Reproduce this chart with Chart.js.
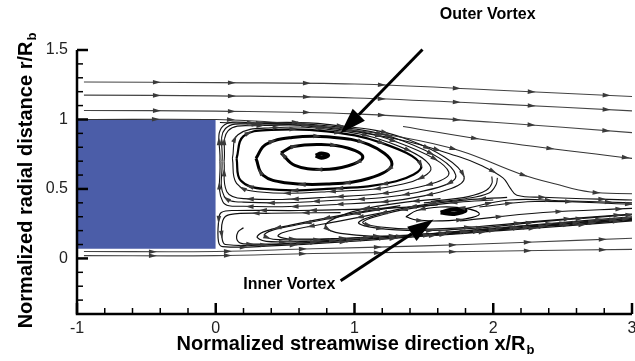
<!DOCTYPE html>
<html>
<head>
<meta charset="utf-8">
<script src="https://cdn.jsdelivr.net/npm/chart.js@4.4.0/dist/chart.umd.min.js"></script>
<style>
  html, body { margin: 0; padding: 0; background: #fff; }
</style>
</head>
<body>
<canvas id="flowChart" width="635" height="361"></canvas>
<script>
// axis ticks
const xTicks = [-1, 0, 1, 2, 3];
const yTicks = [0, 0.5, 1, 1.5];

// body (x/Rb, r/Rb)
const bodyTop = [[-1, 1.0], [0, 1.0]];
const bodyBase = 0.07;

// free stream lines above the body
const free1 = [[-0.95,1.27],[0,1.265],[1,1.255],[2,1.212],[3,1.165]];
const free2 = [[-0.95,1.175],[0,1.17],[1,1.155],[2,1.112],[3,1.062]];
const free3 = [[-0.95,1.065],[0,1.06],[1,1.04],[2,0.98],[3,0.905]];
const free4 = [[1.35,0.95],[2,0.845],[3,0.72]];

// dividing streamlines over the recirculation zone
const sep1 = [[-0.95,1.0],[0,1.0],[0.35,0.985],[0.85,0.94],[1.35,0.87],[1.76,0.775],[2.19,0.61],[2.45,0.535],[2.7,0.478],[3,0.465]];
const sep2 = [[0.03,0.978],[0.6,0.958],[1.3,0.86],[1.76,0.73],[1.91,0.67],[2.07,0.58],[2.12,0.51],[2.17,0.455],[2.36,0.44],[3,0.42]];

// outer vortex loops
const outerCore = [[0.72,0.74],[0.76,0.755],[0.81,0.742],[0.76,0.725],[0.72,0.74]];
const outer1 = [[0.47,0.76],[0.56,0.805],[0.76,0.82],[0.95,0.795],[1.06,0.73],[0.95,0.665],[0.76,0.64],[0.57,0.67],[0.47,0.76]];
const outer2 = [[0.29,0.72],[0.36,0.82],[0.55,0.87],[0.8,0.875],[1.1,0.82],[1.27,0.68],[1.1,0.575],[0.8,0.535],[0.5,0.545],[0.34,0.6],[0.29,0.72]];
const outer3 = [[0.15,0.72],[0.2,0.88],[0.4,0.925],[0.8,0.915],[1.2,0.83],[1.48,0.67],[1.3,0.555],[0.8,0.5],[0.35,0.5],[0.18,0.56],[0.15,0.72]];
const outer3b = [[0.12,0.72],[0.16,0.89],[0.4,0.94],[0.8,0.93],[1.25,0.835],[1.55,0.655],[1.35,0.535],[0.8,0.48],[0.3,0.48],[0.15,0.54],[0.12,0.72]];
const outer4 = [[0.06,0.7],[0.09,0.92],[0.3,0.955],[0.8,0.945],[1.3,0.84],[1.68,0.62],[1.4,0.5],[0.8,0.44],[0.2,0.43],[0.08,0.48],[0.06,0.7]];
const outer4b = [[0.045,0.7],[0.07,0.935],[0.3,0.965],[0.8,0.955],[1.35,0.845],[1.73,0.6],[1.45,0.475],[0.8,0.415],[0.2,0.405],[0.06,0.45],[0.045,0.7]];
const outer5 = [[0.03,0.7],[0.05,0.95],[0.3,0.975],[0.8,0.965],[1.4,0.85],[1.79,0.585],[1.5,0.45],[0.8,0.385],[0.2,0.375],[0.05,0.41],[0.03,0.7]];

// lines along the base wall
const wall1 = [[1.6,0.385],[1.2,0.36],[0.6,0.345],[0.15,0.345],[0.04,0.33],[0.02,0.26],[0.02,0.12],[0.05,0.085],[0.4,0.09],[1.0,0.125],[1.6,0.17],[2.2,0.22],[3.0,0.28]];
const wall2 = [[0.9,0.33],[0.4,0.325],[0.1,0.315],[0.05,0.27],[0.045,0.15],[0.07,0.1],[0.4,0.1],[1.0,0.135],[1.6,0.18],[2.2,0.23],[3.0,0.29]];
const wall3 = [[0.2,0.22],[0.16,0.19],[0.155,0.13],[0.2,0.105],[0.6,0.11],[1.2,0.15],[1.8,0.2],[2.4,0.25],[3,0.3]];

// inner vortex
const innerCore = [[1.62,0.33],[1.7,0.35],[1.8,0.345],[1.72,0.32],[1.62,0.33]];
const inner1 = [[1.37,0.3],[1.45,0.275],[1.62,0.27],[1.8,0.285],[1.9,0.32],[1.8,0.36],[1.62,0.37],[1.45,0.345],[1.37,0.3]];
const innerC1 = [[2.1,0.44],[1.8,0.42],[1.46,0.38],[1.22,0.33],[1.03,0.26],[1.15,0.22],[1.46,0.2],[1.9,0.22],[2.35,0.265],[3.0,0.315]];
const innerC1b = [[2.0,0.42],[1.75,0.405],[1.47,0.37],[1.24,0.325],[1.06,0.262],[1.17,0.228],[1.47,0.21],[1.9,0.23],[2.35,0.27],[3,0.32]];
const innerC2 = [[1.62,0.43],[1.33,0.4],[1.04,0.35],[0.86,0.29],[0.79,0.23],[0.9,0.18],[1.33,0.16],[1.83,0.19],[2.34,0.235],[3.0,0.29]];
const innerC3 = [[1.33,0.38],[0.9,0.31],[0.54,0.24],[0.34,0.19],[0.3,0.15],[0.4,0.12],[0.83,0.13],[1.47,0.16],[2.05,0.2],[3.0,0.27]];
const innerC3b = [[1.3,0.37],[0.92,0.305],[0.58,0.24],[0.4,0.2],[0.35,0.165],[0.45,0.135],[0.85,0.14],[1.47,0.17],[2.05,0.21],[3.0,0.275]];
const innerC3c = [[1.25,0.34],[0.9,0.27],[0.6,0.215],[0.48,0.185],[0.45,0.16],[0.55,0.14],[0.9,0.145],[1.5,0.175],[2.1,0.215],[3,0.28]];

// wake lines behind the saddle
const wake1 = [[1.76,0.35],[2.12,0.42],[2.5,0.415],[3.0,0.4]];
const wake2 = [[1.76,0.27],[2.36,0.33],[3.0,0.36]];
const wake3 = [[1.9,0.37],[2.3,0.41],[3,0.39]];
const saddle1 = [[1.5,0.4],[1.8,0.43],[1.97,0.47],[2.02,0.53],[2.03,0.58]];
const saddle2 = [[1.55,0.41],[1.82,0.445],[1.95,0.49],[1.99,0.54],[1.99,0.59]];

// jet lines below the body
const jet1 = [[-0.95,0.05],[0,0.05],[0.7,0.07],[1.5,0.09],[2.2,0.115],[3,0.145]];
const jet2 = [[-0.95,0.02],[0,0.02],[0.7,0.035],[1.5,0.045],[2.2,0.055],[3,0.065]];

// labels and pointer arrows
const labels = [
  { text: 'Outer Vortex', x: 1.96, y: 1.755 },
  { text: 'Inner Vortex', x: 0.53, y: -0.187 }
];
const pointers = [
  { from: [1.49, 1.504], to: [0.9, 0.9] },
  { from: [0.9, -0.16], to: [1.57, 0.28] }
];

const thin = { w: 1.1, color: '#111', start: 20, gap: 45 };
const lines = [
  { pts: free1, w: 1.1, color: '#444', start: 73, gap: 75 },
  { pts: free2, w: 1.1, color: '#444', start: 73, gap: 75 },
  { pts: free3, w: 1.1, color: '#444', start: 73, gap: 75 },
  { pts: free4, w: 1.1, color: '#333', start: 73, gap: 76 },
  { pts: sep1, w: 1.1, color: '#333', start: 72, gap: 75 },
  { pts: sep2, w: 1.1, color: '#111', start: 40, gap: 60 },
  { pts: outerCore, w: 4, color: '#000' },
  { pts: outer1, w: 3, color: '#000', start: 15, gap: 40 },
  { pts: outer2, w: 3, color: '#000', start: 25, gap: 45 },
  { pts: outer3, w: 2.2, color: '#000', start: 30, gap: 45 },
  Object.assign({ pts: outer3b }, thin),
  Object.assign({ pts: outer4 }, thin),
  Object.assign({ pts: outer4b }, thin),
  Object.assign({ pts: outer5 }, thin),
  { pts: wall1, w: 1.2, color: '#111', start: 25, gap: 50 },
  { pts: wall2, w: 1.2, color: '#111', start: 35, gap: 50 },
  { pts: wall3, w: 1.2, color: '#111', start: 30, gap: 50 },
  { pts: innerCore, w: 4, color: '#000' },
  { pts: inner1, w: 1.2, color: '#000', start: 15, gap: 40 },
  { pts: innerC1, w: 1.3, color: '#111', start: 25, gap: 50 },
  { pts: innerC1b, w: 1.1, color: '#111', start: 40, gap: 50 },
  { pts: innerC2, w: 1.3, color: '#111', start: 25, gap: 50 },
  { pts: innerC3, w: 1.3, color: '#111', start: 25, gap: 50 },
  { pts: innerC3b, w: 1.1, color: '#111', start: 40, gap: 50 },
  { pts: innerC3c, w: 1.1, color: '#111', start: 30, gap: 50 },
  { pts: wake1, w: 1.1, color: '#111', start: 30, gap: 60 },
  { pts: wake2, w: 1.1, color: '#111', start: 40, gap: 60 },
  { pts: wake3, w: 1.1, color: '#111', start: 30, gap: 60 },
  { pts: saddle1, w: 1.1, color: '#111' },
  { pts: saddle2, w: 1.1, color: '#111' },
  { pts: jet1, w: 1.1, color: '#444', start: 69, gap: 75 },
  { pts: jet2, w: 1.1, color: '#444', start: 69, gap: 75 }
];

const toXY = pts => pts.map(p => ({ x: p[0], y: p[1] }));

let datasets = lines.map(l => ({
  data: toXY(l.pts),
  borderColor: l.color,
  borderWidth: l.w,
  pointRadius: 0,
  tension: 0.4,
  fill: false,
  arrowStart: l.start,
  arrowGap: l.gap
}));
datasets.push({
  data: toXY(bodyTop),
  borderWidth: 0,
  borderColor: 'rgba(0,0,0,0)',
  backgroundColor: '#4b5da8',
  pointRadius: 0,
  tension: 0,
  fill: { value: bodyBase },
  order: 10
});

function drawHead(ctx, x, y, dx, dy, len, half) {
  const nx = -dy, ny = dx;
  ctx.beginPath();
  ctx.moveTo(x + dx * len / 2, y + dy * len / 2);
  ctx.lineTo(x - dx * len / 2 + nx * half, y - dy * len / 2 + ny * half);
  ctx.lineTo(x - dx * len / 2 - nx * half, y - dy * len / 2 - ny * half);
  ctx.closePath();
  ctx.fill();
}

const arrowPlugin = {
  id: 'streamArrows',
  afterDatasetsDraw(chart) {
    const ctx = chart.ctx;
    const area = chart.chartArea;
    ctx.save();
    ctx.beginPath();
    ctx.rect(area.left, area.top, area.right - area.left, area.bottom - area.top);
    ctx.clip();
    ctx.fillStyle = '#3a3a3a';
    chart.data.datasets.forEach((ds, i) => {
      if (!ds.arrowGap) return;
      const pts = chart.getDatasetMeta(i).data;
      const path = [];
      for (let k = 0; k < pts.length - 1; k++) {
        const a = pts[k], b = pts[k + 1];
        const c1x = a.cp2x ?? a.x, c1y = a.cp2y ?? a.y;
        const c2x = b.cp1x ?? b.x, c2y = b.cp1y ?? b.y;
        for (let s = 0; s < 16; s++) {
          const t = s / 16, u = 1 - t;
          path.push([
            u*u*u*a.x + 3*u*u*t*c1x + 3*u*t*t*c2x + t*t*t*b.x,
            u*u*u*a.y + 3*u*u*t*c1y + 3*u*t*t*c2y + t*t*t*b.y
          ]);
        }
      }
      const last = pts[pts.length - 1];
      path.push([last.x, last.y]);
      let run = 0, next = ds.arrowStart;
      for (let k = 0; k < path.length - 1; k++) {
        const dx = path[k+1][0] - path[k][0], dy = path[k+1][1] - path[k][1];
        const L = Math.hypot(dx, dy);
        if (L === 0) continue;
        while (run + L >= next) {
          const t = (next - run) / L;
          drawHead(ctx, path[k][0] + dx * t, path[k][1] + dy * t, dx / L, dy / L, 8, 2.3);
          next += ds.arrowGap;
        }
        run += L;
      }
    });
    ctx.restore();
  }
};

const frameAndText = {
  id: 'frameAndText',
  afterDraw(chart) {
    const ctx = chart.ctx;
    const xs = chart.scales.x, ys = chart.scales.y;
    const { left, right, top, bottom } = chart.chartArea;
    ctx.save();
    ctx.strokeStyle = '#000';
    ctx.lineCap = 'butt';
    // axis lines
    ctx.lineWidth = 2.5;
    ctx.beginPath();
    ctx.moveTo(left, top);
    ctx.lineTo(left, bottom);
    ctx.lineTo(right, bottom);
    ctx.stroke();
    // major ticks
    xTicks.forEach(v => {
      const px = xs.getPixelForValue(v);
      ctx.beginPath(); ctx.moveTo(px, bottom); ctx.lineTo(px, bottom - 11); ctx.stroke();
    });
    yTicks.forEach(v => {
      const py = ys.getPixelForValue(v);
      ctx.beginPath(); ctx.moveTo(left, py); ctx.lineTo(left + 11, py); ctx.stroke();
    });
    // minor ticks
    ctx.lineWidth = 1.5;
    for (let i = -5; i <= 15; i++) {
      const v = i / 5;
      if (Number.isInteger(v)) continue;
      const px = xs.getPixelForValue(v);
      ctx.beginPath(); ctx.moveTo(px, bottom); ctx.lineTo(px, bottom - 6); ctx.stroke();
    }
    for (let i = -4; i <= 15; i++) {
      if (i % 5 === 0) continue;
      const py = ys.getPixelForValue(i / 10);
      ctx.beginPath(); ctx.moveTo(left, py); ctx.lineTo(left + 6, py); ctx.stroke();
    }

    // pointer arrows
    ctx.fillStyle = '#000';
    ctx.lineWidth = 3;
    pointers.forEach(p => {
      const x0 = xs.getPixelForValue(p.from[0]), y0 = ys.getPixelForValue(p.from[1]);
      const x1 = xs.getPixelForValue(p.to[0]), y1 = ys.getPixelForValue(p.to[1]);
      const L = Math.hypot(x1 - x0, y1 - y0);
      const dx = (x1 - x0) / L, dy = (y1 - y0) / L;
      const head = 26;
      ctx.beginPath();
      ctx.moveTo(x0, y0);
      ctx.lineTo(x1 - dx * head, y1 - dy * head);
      ctx.stroke();
      drawHead(ctx, x1 - dx * head / 2, y1 - dy * head / 2, dx, dy, head, 8.5);
    });

    // annotation labels
    ctx.font = 'bold 16px "Liberation Sans", Arial, sans-serif';
    ctx.textAlign = 'center';
    ctx.textBaseline = 'middle';
    labels.forEach(l => {
      ctx.fillText(l.text, xs.getPixelForValue(l.x), ys.getPixelForValue(l.y));
    });

    // axis titles with subscript
    const drawTitle = (main, cx, cy) => {
      ctx.font = 'bold 20px "Liberation Sans", Arial, sans-serif';
      const w1 = ctx.measureText(main).width;
      ctx.font = 'bold 13px "Liberation Sans", Arial, sans-serif';
      const w2 = ctx.measureText('b').width;
      const x0 = cx - (w1 + w2) / 2;
      ctx.textAlign = 'left';
      ctx.textBaseline = 'alphabetic';
      ctx.font = 'bold 20px "Liberation Sans", Arial, sans-serif';
      ctx.fillText(main, x0, cy);
      ctx.font = 'bold 13px "Liberation Sans", Arial, sans-serif';
      ctx.fillText('b', x0 + w1 + 1, cy + 4);
    };
    drawTitle('Normalized streamwise direction x/R', 355, 350);
    ctx.translate(32, 181);
    ctx.rotate(-Math.PI / 2);
    drawTitle('Normalized radial distance r/R', 0, 0);
    ctx.restore();
  }
};

new Chart(document.getElementById('flowChart'), {
  type: 'line',
  data: { datasets: datasets },
  options: {
    responsive: false,
    animation: false,
    layout: { padding: { top: 50, right: 3, left: 0, bottom: 0 } },
    plugins: { legend: { display: false }, tooltip: { enabled: false } },
    scales: {
      x: {
        type: 'linear',
        min: -1,
        max: 3,
        grid: { display: false, drawTicks: false },
        border: { display: false },
        afterBuildTicks: s => { s.ticks = xTicks.map(v => ({ value: v })); },
        afterFit: s => { s.height = 47; s.paddingLeft = 0; s.paddingRight = 0; },
        ticks: {
          callback: v => String(v),
          autoSkip: false,
          maxRotation: 0,
          padding: 5,
          color: '#222',
          font: { family: '"Liberation Sans", Arial, sans-serif', size: 16 }
        }
      },
      y: {
        type: 'linear',
        min: -0.4,
        max: 1.5,
        grid: { display: false, drawTicks: false },
        border: { display: false },
        afterBuildTicks: s => { s.ticks = yTicks.map(v => ({ value: v })); },
        afterFit: s => { s.width = 77; s.paddingTop = 0; s.paddingBottom = 0; },
        ticks: {
          callback: v => String(v),
          padding: 9,
          color: '#222',
          font: { family: '"Liberation Sans", Arial, sans-serif', size: 16 }
        }
      }
    }
  },
  plugins: [arrowPlugin, frameAndText]
});
</script>
</body>
</html>
